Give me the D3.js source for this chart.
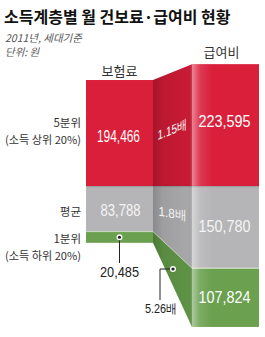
<!DOCTYPE html>
<html><head><meta charset="utf-8">
<script src="https://cdn.jsdelivr.net/npm/d3@7"></script>
<style>
html,body{margin:0;padding:0;background:#fff;}
svg{display:block;}
text{font-family:"Noto Sans CJK KR","Noto Sans",sans-serif;}
.num{font-family:"Liberation Sans","Arial",sans-serif;}
</style></head>
<body>
<script>
const title = "소득계층별 월 건보료·급여비 현황";
const subtitle = ["2011년, 세대기준", "단위: 원"];
const columns = ["보험료", "급여비"];
const groups = ["5분위", "평균", "1분위"];
const groupSub = ["(소득 상위 20%)", null, "(소득 하위 20%)"];
const premium = [194466, 83788, 20485];
const benefit = [223595, 150780, 107824];
const ratios = ["1.15배", "1.8배", "5.26배"];

const W = 265, H = 337;
const colors = ["#da1f3b", "#b5b5b7", "#6aa04e"];
const midColors = ["#c81a34", "#a8a8aa", "#5e9345"];

const svg = d3.select("body").append("svg").attr("width", W).attr("height", H);
const defs = svg.append("defs");

const x = d3.scaleBand().domain(columns).range([86, 259]).paddingInner(0.368).paddingOuter(0);
const y = d3.scaleLinear().domain([-250000, 250000]).range([186 + 136.25, 186 - 136.25]);

function stack(vals) {
  return [
    [0, vals[0]],
    [0, -vals[1]],
    [-vals[1], -vals[1] - vals[2]]
  ];
}
const stacks = [stack(premium), stack(benefit)];

const bw = x.bandwidth();
const xl0 = x(columns[0]), xl1 = xl0 + bw;
const xr0 = x(columns[1]), xr1 = xr0 + bw;

const g1 = defs.append("linearGradient").attr("id", "midShade").attr("x1", 0).attr("x2", 1).attr("y1", 0).attr("y2", 0);
g1.append("stop").attr("offset", 0).attr("stop-color", "#000").attr("stop-opacity", 0.18);
g1.append("stop").attr("offset", 0.25).attr("stop-color", "#000").attr("stop-opacity", 0.06);
g1.append("stop").attr("offset", 0.9).attr("stop-color", "#000").attr("stop-opacity", 0.0);
g1.append("stop").attr("offset", 1).attr("stop-color", "#fff").attr("stop-opacity", 0.15);
const g2 = defs.append("linearGradient").attr("id", "hiShade").attr("x1", 0).attr("x2", 1).attr("y1", 0).attr("y2", 0);
g2.append("stop").attr("offset", 0).attr("stop-color", "#fff").attr("stop-opacity", 0.45);
g2.append("stop").attr("offset", 0.12).attr("stop-color", "#fff").attr("stop-opacity", 0.12);
g2.append("stop").attr("offset", 0.3).attr("stop-color", "#fff").attr("stop-opacity", 0.0);

const chart = svg.append("g");
groups.forEach((gname, i) => {
  const L = stacks[0][i], R = stacks[1][i];
  chart.append("rect").attr("x", xl0).attr("width", bw)
    .attr("y", y(Math.max(L[0], L[1]))).attr("height", Math.abs(y(L[0]) - y(L[1])))
    .attr("fill", colors[i]);
  chart.append("rect").attr("x", xr0).attr("width", bw)
    .attr("y", y(Math.max(R[0], R[1]))).attr("height", Math.abs(y(R[0]) - y(R[1])))
    .attr("fill", colors[i]);
  const pts = [[xl1, y(L[0])], [xr0, y(R[0])], [xr0, y(R[1])], [xl1, y(L[1])]];
  chart.append("polygon").attr("points", pts.map(p => p.join(",")).join(" ")).attr("fill", midColors[i]);
  chart.append("polygon").attr("points", pts.map(p => p.join(",")).join(" ")).attr("fill", "url(#midShade)");
});
const rTop = y(stacks[1][0][1]), rBot = y(stacks[1][2][1]);
chart.append("rect").attr("x", xr0).attr("width", bw).attr("y", rTop).attr("height", rBot - rTop).attr("fill", "url(#hiShade)");
const sepR = y(stacks[1][2][0]);
chart.append("line").attr("x1", xr0).attr("x2", xr1).attr("y1", sepR).attr("y2", sepR).attr("stroke", "#fff").attr("stroke-opacity", 0.7).attr("stroke-width", 1);
const sepL = y(stacks[0][2][0]);
chart.append("line").attr("x1", xl0).attr("x2", xl1).attr("y1", sepL).attr("y2", sepL).attr("stroke", "#fff").attr("stroke-opacity", 0.5).attr("stroke-width", 0.8);
chart.append("line").attr("x1", xl1).attr("x2", xr0).attr("y1", sepL).attr("y2", sepR).attr("stroke", "#fff").attr("stroke-opacity", 0.5).attr("stroke-width", 0.8);
const base = y(0);
chart.append("line").attr("x1", xl0).attr("x2", xr1).attr("y1", base + 0.5).attr("y2", base + 0.5).attr("stroke", "#000").attr("stroke-opacity", 0.12).attr("stroke-width", 1.5);

svg.append("text").attr("x", 4).attr("y", 23).attr("font-size", 16).attr("font-weight", 700).attr("fill", "#111").text(title);
subtitle.forEach((s, i) => {
  svg.append("text").attr("x", 5).attr("y", 42 + i * 14).attr("font-size", 10.5).attr("fill", "#555")
    .attr("font-style", "italic").text(s);
});
svg.append("text").attr("x", x(columns[0]) + bw / 2).attr("y", 76).attr("text-anchor", "middle").attr("font-size", 13).attr("fill", "#333").text(columns[0]);
svg.append("text").attr("x", x(columns[1]) + bw / 2 - 4).attr("y", 57).attr("text-anchor", "middle").attr("font-size", 13).attr("fill", "#333").text(columns[1]);

const labelY = [127, 216, 243];
const subY = [144, null, 259.5];
groups.forEach((gname, i) => {
  svg.append("text").attr("x", 81).attr("y", labelY[i]).attr("text-anchor", "end").attr("font-size", 11.5).attr("fill", "#333").text(gname);
  if (groupSub[i]) svg.append("text").attr("x", 81).attr("y", subY[i]).attr("text-anchor", "end").attr("font-size", 11).attr("fill", "#333")
    .attr("textLength", 76).attr("lengthAdjust", "spacingAndGlyphs").text(groupSub[i]);
});

const fmt = d3.format(",");
function numLabel(cx, by, val, len, col) {
  svg.append("text").attr("class", "num").attr("x", cx).attr("y", by).attr("text-anchor", "middle")
    .attr("font-size", 16.5).attr("fill", col).attr("textLength", len).attr("lengthAdjust", "spacingAndGlyphs").text(fmt(val));
}
const lc = xl0 + bw / 2, rc = xr0 + bw / 2;
numLabel(lc - 1, 142, premium[0], 43, "#fff");
numLabel(lc + 1, 216, premium[1], 40, "#f4f4f4");
numLabel(rc - 1, 127, benefit[0], 52, "#fff");
numLabel(rc - 1, 232, benefit[1], 52, "#f4f4f4");
numLabel(rc - 1, 303, benefit[2], 52, "#fff");

const mc = (xl1 + xr0) / 2;
svg.append("text").attr("class", "num").attr("font-size", 13).attr("fill", "#fff").attr("text-anchor", "middle")
  .attr("transform", `translate(${mc},134) skewY(-22)`).attr("textLength", 30).attr("lengthAdjust", "spacingAndGlyphs").text(ratios[0]);
svg.append("text").attr("class", "num").attr("font-size", 13).attr("fill", "#f4f4f4").attr("text-anchor", "middle")
  .attr("transform", `translate(${mc},218) skewY(10)`).attr("textLength", 28).attr("lengthAdjust", "spacingAndGlyphs").text(ratios[1]);

const dot1 = [lc, (y(stacks[0][2][0]) + y(stacks[0][2][1])) / 2];
svg.append("line").attr("x1", dot1[0]).attr("x2", dot1[0]).attr("y1", dot1[1]).attr("y2", 263).attr("stroke", "#222").attr("stroke-width", 1);
svg.append("circle").attr("cx", dot1[0]).attr("cy", dot1[1]).attr("r", 3).attr("fill", "#fff");
svg.append("circle").attr("cx", dot1[0]).attr("cy", dot1[1]).attr("r", 1.6).attr("fill", "#222");
svg.append("text").attr("class", "num").attr("x", lc).attr("y", 277).attr("text-anchor", "middle").attr("font-size", 15)
  .attr("fill", "#222").attr("textLength", 39).attr("lengthAdjust", "spacingAndGlyphs").text(fmt(premium[2]));

const dot2 = [173, 269];
svg.append("polyline").attr("points", `${dot2[0]},${dot2[1]} 160,${dot2[1]} 160,300`).attr("fill", "none").attr("stroke", "#222").attr("stroke-width", 1);
svg.append("circle").attr("cx", dot2[0]).attr("cy", dot2[1]).attr("r", 3).attr("fill", "#fff");
svg.append("circle").attr("cx", dot2[0]).attr("cy", dot2[1]).attr("r", 1.6).attr("fill", "#222");
svg.append("text").attr("class", "num").attr("x", 161).attr("y", 313).attr("text-anchor", "middle").attr("font-size", 13)
  .attr("fill", "#222").attr("textLength", 32).attr("lengthAdjust", "spacingAndGlyphs").text(ratios[2]);
</script>
</body></html>
